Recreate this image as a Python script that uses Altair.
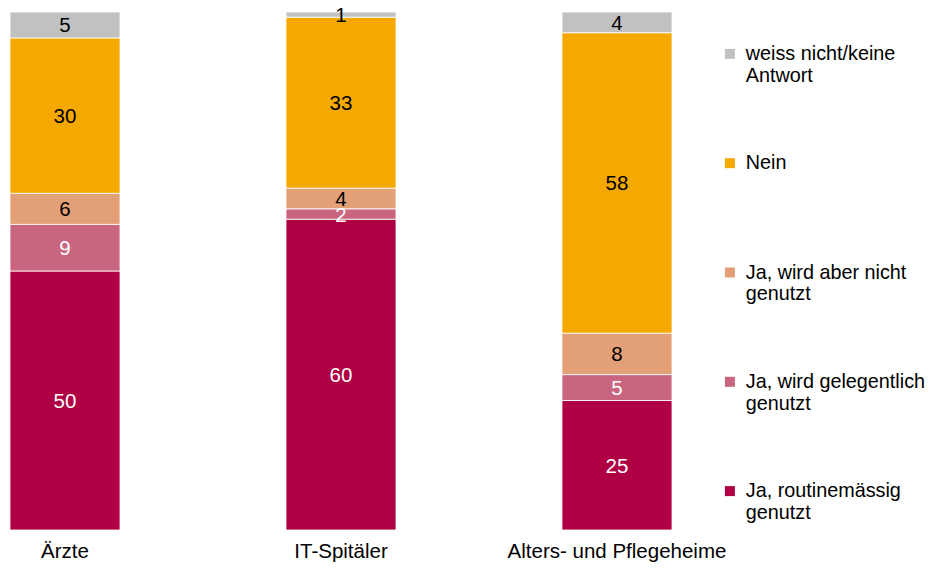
import altair as alt
import pandas as pd

groups = ["Ärzte", "IT-Spitäler", "Alters- und Pflegeheime"]
answers = [
    "Ja, routinemässig genutzt",
    "Ja, wird gelegentlich genutzt",
    "Ja, wird aber nicht genutzt",
    "Nein",
    "weiss nicht/keine Antwort",
]
routine = [50, 60, 25]
occasional = [9, 2, 5]
not_used = [6, 4, 8]
nein = [30, 33, 58]
unknown = [5, 1, 4]
colors = ["#AF0044", "#C9657F", "#E39F76", "#F5A800", "#C1C1C1"]
label_colors = ["white", "white", "black", "black", "black"]
legend_lines = {
    "weiss nicht/keine Antwort": ["weiss nicht/keine", "Antwort"],
    "Nein": ["Nein", ""],
    "Ja, wird aber nicht genutzt": ["Ja, wird aber nicht", "genutzt"],
    "Ja, wird gelegentlich genutzt": ["Ja, wird gelegentlich", "genutzt"],
    "Ja, routinemässig genutzt": ["Ja, routinemässig", "genutzt"],
}

series = [routine, occasional, not_used, nein, unknown]
rows = []
for gi, g in enumerate(groups):
    for ai, a in enumerate(answers):
        rows.append({"group": g, "answer": a, "rank": ai, "value": series[ai][gi],
                     "tcol": label_colors[ai]})
df = pd.DataFrame(rows)

expr = ""
for k, v in legend_lines.items():
    arr = "[" + ", ".join("'" + s + "'" for s in v) + "]"
    expr += f"datum.label == '{k}' ? {arr} : "
expr += "datum.label"

FONT = "Liberation Sans"
FS = 20.5

base = alt.Chart(df).transform_stack(
    stack="value", groupby=["group"], as_=["y0", "y1"],
    sort=[alt.SortField("rank", order="ascending")]
).transform_calculate(mid="(datum.y0 + datum.y1) / 2")

x = alt.X("group:N", sort=groups, title=None,
          scale=alt.Scale(paddingInner=0.6014, paddingOuter=0),
          axis=alt.Axis(labelAngle=0, labelFontSize=FS, labelFont=FONT, labelColor="black",
                        ticks=False, domain=False, labelPadding=11, labelLimit=400))

bars = base.mark_bar(stroke="white", strokeWidth=0.8).encode(
    x=x,
    y=alt.Y("y0:Q", scale=alt.Scale(domain=[0, 100], nice=False), axis=None),
    y2="y1:Q",
    color=alt.Color("answer:N",
                    scale=alt.Scale(domain=answers[::-1], range=colors[::-1]),
                    legend=alt.Legend(title=None, orient="none", legendX=710, legendY=32,
                                      symbolType="square", symbolSize=100, symbolStrokeWidth=0,
                                      labelFontSize=19.8, labelFont=FONT, labelColor="black",
                                      labelOffset=6, rowPadding=66.3, labelLimit=400,
                                      padding=0, labelExpr=expr)),
)

texts = base.mark_text(fontSize=FS, font=FONT, baseline="middle", dy=1.5).encode(
    x=x,
    y=alt.Y("mid:Q"),
    text="value:Q",
    color=alt.Color("tcol:N", scale=None),
)

chart = (bars + texts).properties(
    width=662, height=518,
    padding={"left": 2, "top": 4, "right": 254, "bottom": 32},
    autosize=alt.AutoSizeParams(type="none"),
).configure_view(stroke=None)

chart.save("out.html", embed_options={"renderer": "svg", "actions": False})
